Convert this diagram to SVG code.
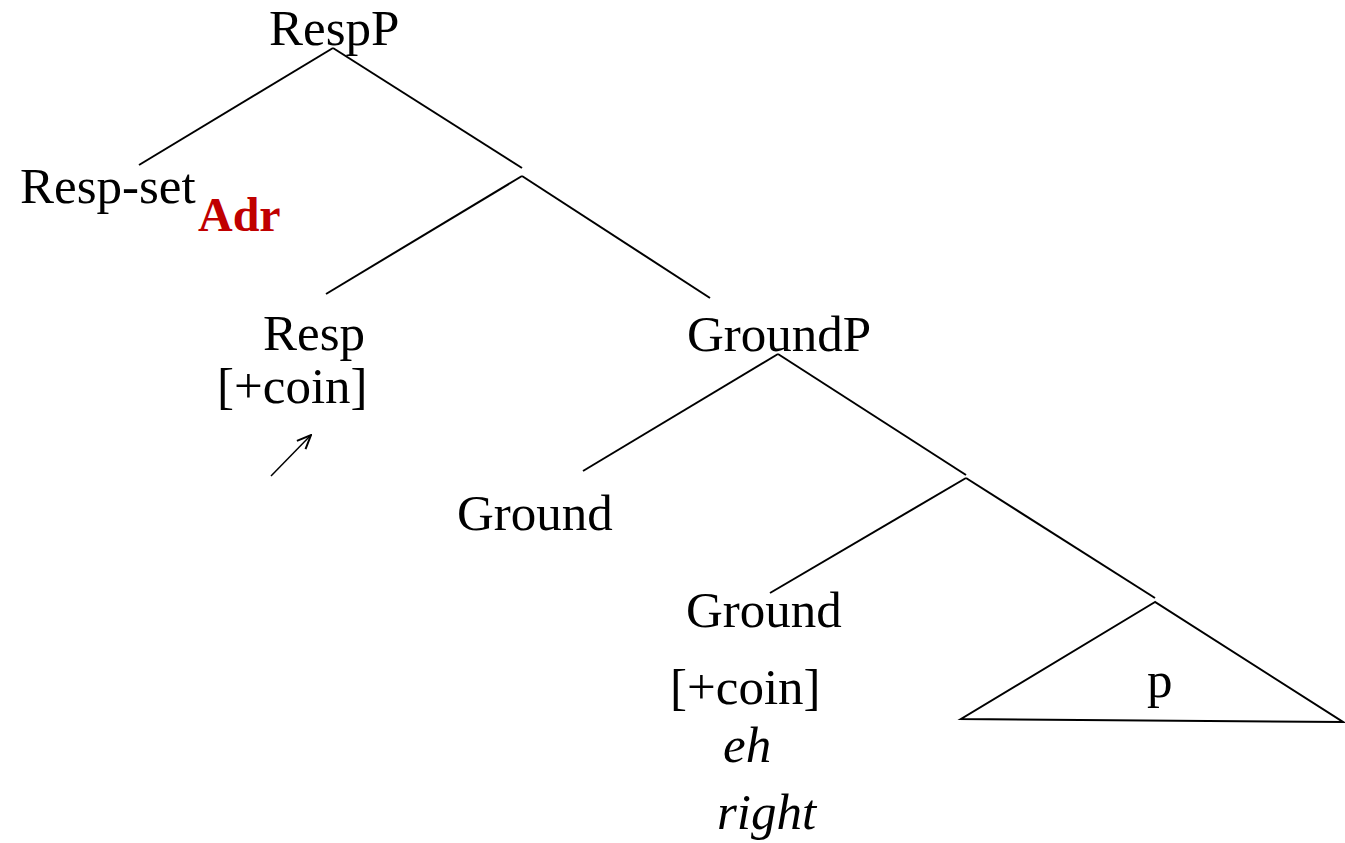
<svg xmlns="http://www.w3.org/2000/svg" width="1345" height="843" viewBox="0 0 1345 843">
<style>
.t{font-family:"Liberation Serif","Times New Roman",serif;font-size:51px;fill:#000}
.i{font-style:italic}
.adr{font-family:"Liberation Serif","Times New Roman",serif;font-size:48px;font-weight:bold;fill:#C00000}
.e{stroke:#000;stroke-width:2;fill:none}
</style>
<defs>
<marker id="ah" viewBox="0 0 16 16" refX="15" refY="8" markerWidth="16" markerHeight="16" markerUnits="userSpaceOnUse" orient="auto">
<path d="M1,2 L15,8 L1,14" fill="none" stroke="#000" stroke-width="2"/>
</marker>
</defs>
<rect width="1345" height="843" fill="#fff"/>
<g id="connectors">
<line class="e" x1="333" y1="48" x2="139" y2="165"/>
<line class="e" x1="333" y1="48" x2="522" y2="168"/>
<line class="e" x1="522" y1="176" x2="326" y2="294"/>
<line class="e" x1="522" y1="176" x2="710" y2="298"/>
<line class="e" x1="778" y1="354" x2="583" y2="471"/>
<line class="e" x1="778" y1="354" x2="966" y2="475"/>
<line class="e" x1="966" y1="478" x2="770" y2="593"/>
<line class="e" x1="966" y1="478" x2="1155" y2="598"/>
<line x1="271" y1="476" x2="311" y2="435" stroke="#000" stroke-width="1.5" marker-end="url(#ah)"/>
</g>
<g id="n-respp"><text class="t" x="269" y="45">RespP</text></g>
<g id="n-respset"><text class="t" x="20" y="203">Resp-set</text><text class="adr" x="198" y="231">Adr</text></g>
<g id="n-resp"><text class="t" x="263" y="350">Resp</text><text class="t" x="217" y="403">[+coin]</text></g>
<g id="n-groundp"><text class="t" x="687" y="351">GroundP</text></g>
<g id="n-ground1"><text class="t" x="457" y="530">Ground</text></g>
<g id="n-ground2"><text class="t" x="686" y="627">Ground</text><text class="t" x="670" y="704">[+coin]</text><text class="t i" x="723" y="762">eh</text><text class="t i" x="717" y="829">right</text></g>
<g id="n-p"><path class="e" d="M1155,602 L961,719 L1343,722 Z"/><text class="t" x="1147" y="697">p</text></g>
</svg>
